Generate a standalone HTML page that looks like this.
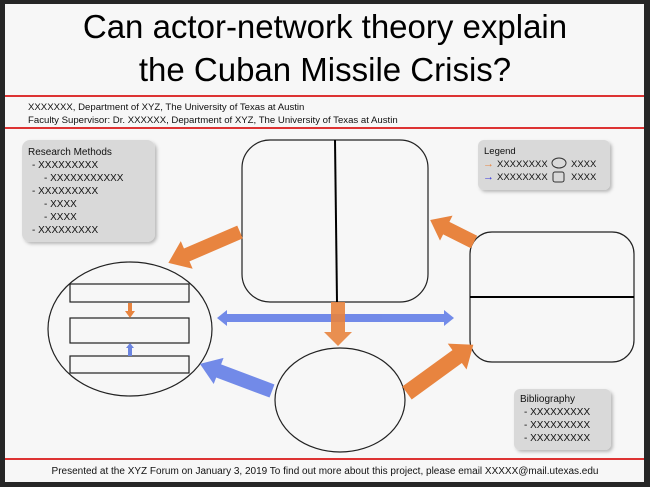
<!DOCTYPE html>
<html><head><meta charset="utf-8"><style>
body{margin:0;width:650px;height:487px;overflow:hidden;background:#222;}
svg{display:block;font-family:"Liberation Sans",sans-serif;}
</style></head><body>
<svg width="650" height="487" viewBox="0 0 650 487" xmlns="http://www.w3.org/2000/svg">
<defs><filter id="sh" x="-10%" y="-10%" width="130%" height="130%"><feDropShadow dx="2" dy="2" stdDeviation="1.5" flood-color="#000" flood-opacity="0.25"/></filter></defs>
<rect x="0" y="0" width="650" height="487" fill="#262626"/>
<rect x="5" y="4" width="639" height="478" fill="#f7f7f7"/>
<text x="325" y="38" text-anchor="middle" font-size="33" fill="#000">Can actor-network theory explain</text>
<text x="325" y="81" text-anchor="middle" font-size="33" fill="#000">the Cuban Missile Crisis?</text>
<line x1="5" y1="96" x2="644" y2="96" stroke="#d33" stroke-width="2"/>
<line x1="5" y1="128" x2="644" y2="128" stroke="#d33" stroke-width="2"/>
<line x1="5" y1="459" x2="644" y2="459" stroke="#d33" stroke-width="2"/>
<text x="28" y="110" font-size="9.6" fill="#111">XXXXXXX, Department of XYZ, The University of Texas at Austin</text>
<text x="28" y="123" font-size="9.6" fill="#111">Faculty Supervisor: Dr. XXXXXX, Department of XYZ, The University of Texas at Austin</text>
<text x="325" y="474" text-anchor="middle" font-size="10" fill="#111">Presented at the XYZ Forum on January 3, 2019  To find out more about this project, please email XXXXX@mail.utexas.edu</text>

<rect x="22" y="140" width="133" height="102" rx="8" fill="#d9d9d9" filter="url(#sh)"/>
<g font-size="10" fill="#111">
<text x="28" y="155">Research Methods</text>
<text x="32" y="168">- XXXXXXXXX</text>
<text x="44" y="181">- XXXXXXXXXXX</text>
<text x="32" y="194">- XXXXXXXXX</text>
<text x="44" y="207">- XXXX</text>
<text x="44" y="220">- XXXX</text>
<text x="32" y="233">- XXXXXXXXX</text>
</g>
<rect x="478" y="140" width="132" height="50" rx="6" fill="#d9d9d9" filter="url(#sh)"/>
<g font-size="9.5" fill="#111">
<text x="484" y="154">Legend</text>
<text x="497" y="167">XXXXXXXX</text>
<text x="497" y="180">XXXXXXXX</text>
<text x="571" y="167">XXXX</text>
<text x="571" y="180">XXXX</text>
</g>
<text x="483" y="167" font-size="11" font-weight="bold" fill="#e8843f">→</text>
<text x="483" y="180" font-size="11" font-weight="bold" fill="#3333dd">→</text>
<ellipse cx="559" cy="163" rx="7" ry="5" fill="none" stroke="#333" stroke-width="1"/>
<rect x="553" y="172" width="11" height="10" rx="2" fill="none" stroke="#333" stroke-width="1"/>
<rect x="514" y="389" width="97" height="61" rx="6" fill="#d9d9d9" filter="url(#sh)"/>
<g font-size="10" fill="#111">
<text x="520" y="402">Bibliography</text>
<text x="524" y="415">- XXXXXXXXX</text>
<text x="524" y="428">- XXXXXXXXX</text>
<text x="524" y="441">- XXXXXXXXX</text>
</g>

<rect x="242" y="140" width="186" height="162" rx="28" fill="none" stroke="#222" stroke-width="1.2"/>
<line x1="335" y1="140" x2="337" y2="302" stroke="#000" stroke-width="2"/>
<rect x="470" y="232" width="164" height="130" rx="22" fill="none" stroke="#222" stroke-width="1.2"/>
<line x1="470" y1="297" x2="634" y2="297" stroke="#000" stroke-width="2"/>
<ellipse cx="130" cy="329" rx="82" ry="67" fill="none" stroke="#222" stroke-width="1.2"/>
<rect x="70" y="284" width="119" height="18" fill="none" stroke="#222" stroke-width="1.2"/>
<rect x="70" y="318" width="119" height="25" fill="none" stroke="#222" stroke-width="1.2"/>
<rect x="70" y="356" width="119" height="17" fill="none" stroke="#222" stroke-width="1.2"/>
<ellipse cx="340" cy="400" rx="65" ry="52" fill="none" stroke="#222" stroke-width="1.2"/>

<polygon points="128,303 132,303 132,311 135,311 130,318 125,311 128,311" fill="#e8843f"/>
<polygon points="128,356 132,356 132,348 134,348 130,343 126,348 128,348" fill="#6b84e0"/>

<g fill="#e8843f">
<g transform="translate(240,232) rotate(156.7)"><polygon points="0,-7 58,-7 58,-15 78,0 58,15 58,7 0,7"/></g>
<g transform="translate(474,242) rotate(206.6)"><polygon points="0,-7 31,-7 31,-14 49,0 31,14 31,7 0,7"/></g>
<g transform="translate(407,393) rotate(-36)"><polygon points="0,-8 62,-8 62,-16 82,0 62,16 62,8 0,8"/></g>
</g>
<g fill="#5b78e6" opacity="0.85">
<g transform="translate(272,391) rotate(200.6)"><polygon points="0,-7 57,-7 57,-14 77,0 57,14 57,7 0,7"/></g>
<polygon points="217,318 227,310 227,314 444,314 444,310 454,318 444,326 444,322 227,322 227,326"/>
</g>
<g fill="#e8843f" opacity="0.9">
<g transform="translate(338,302) rotate(90)"><polygon points="0,-7 30,-7 30,-14 44,0 30,14 30,7 0,7"/></g>
</g>
</svg>
</body></html>
